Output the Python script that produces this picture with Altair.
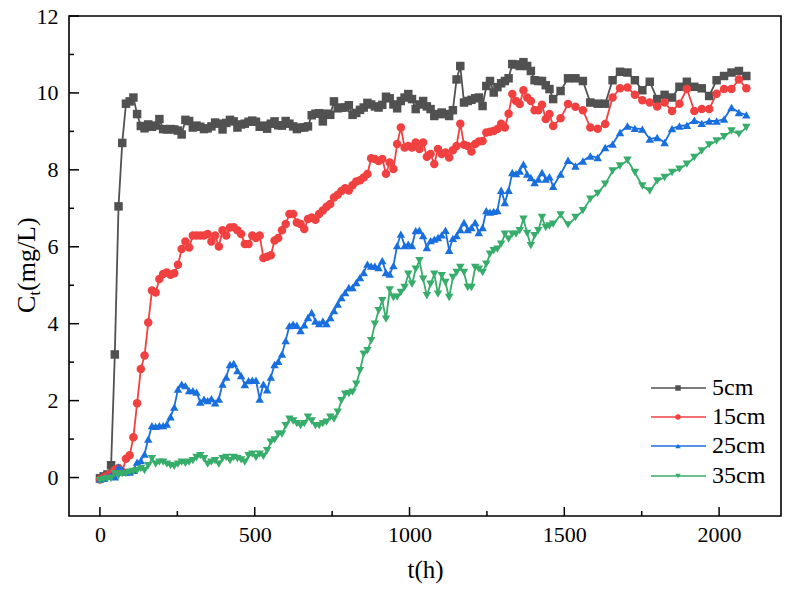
import altair as alt
import pandas as pd

# ---------------- data ----------------
times = [
    0, 12, 24, 36, 48, 60, 72, 84, 96, 108,
    120, 132, 144, 156, 168, 180, 192, 204, 216, 228,
    240, 252, 264, 276, 288, 300, 312, 324, 336, 348,
    360, 372, 384, 396, 408, 420, 432, 444, 456, 468,
    480, 492, 504, 516, 528, 540, 552, 564, 576, 588,
    600, 612, 624, 636, 648, 660, 672, 684, 696, 708,
    720, 732, 744, 756, 768, 780, 792, 804, 816, 828,
    840, 852, 864, 876, 888, 900, 912, 924, 936, 948,
    960, 972, 984, 996, 1008, 1020, 1032, 1044, 1056, 1068,
    1080, 1092, 1104, 1116, 1128, 1140, 1152, 1164, 1176, 1188,
    1200, 1212, 1224, 1236, 1248, 1260, 1272, 1284, 1296, 1308,
    1320, 1332, 1344, 1356, 1368, 1380, 1392, 1404, 1416, 1428,
    1440, 1452, 1464, 1488, 1512, 1536, 1560, 1584, 1608, 1632,
    1656, 1680, 1704, 1728, 1752, 1776, 1800, 1824, 1848, 1872,
    1896, 1920, 1944, 1968, 1992, 2016, 2040, 2064, 2088,
]

c_5cm = [
    -0.02, 0.03, 0.08, 0.32, 3.2, 7.05, 8.7, 9.72, 9.78, 9.88,
    9.45, 9.14, 9.08, 9.18, 9.12, 9.15, 9.32, 9.06, 9.05, 9.06,
    9.05, 9.02, 8.92, 9.3, 9.27, 9.1, 9.15, 9.12, 9.06, 9.08,
    9.13, 9.23, 9.2, 9.05, 9.22, 9.3, 9.26, 9.1, 9.18, 9.2,
    9.25, 9.28, 9.25, 9.12, 9.15, 9.07, 9.2, 9.26, 9.16, 9.15,
    9.27, 9.2, 9.13, 9.06, 9.1, 9.1, 9.13, 9.42, 9.46, 9.47,
    9.26, 9.46, 9.43, 9.78, 9.6, 9.62, 9.62, 9.68, 9.43, 9.48,
    9.56, 9.62, 9.74, 9.7, 9.65, 9.62, 9.69, 9.9, 9.86, 9.7,
    9.6, 9.79, 9.88, 9.97, 9.84, 9.58, 9.7, 9.79, 9.65, 9.58,
    9.4, 9.45, 9.49, 9.45, 9.4, 9.55, 10.35, 10.7, 9.75, 9.79,
    9.82, 9.86, 9.88, 9.66, 10.18, 10.31, 10.01, 10.15, 10.25, 10.31,
    10.38, 10.75, 10.74, 10.7, 10.8, 10.7, 10.57, 10.33, 10.31, 10.31,
    10.2, 10.1, 9.84, 10.05, 10.38, 10.38, 10.31, 9.75, 9.72, 9.72,
    10.33, 10.55, 10.53, 10.33, 10.07, 10.29, 9.84, 9.95, 9.88, 10.16,
    10.29, 10.16, 10.12, 9.92, 10.33, 10.44, 10.53, 10.57, 10.44,
]

c_15cm = [
    -0.05, 0.0, 0.05, 0.1, 0.2, 0.25, 0.15, 0.49, 0.58, 1.05,
    1.93, 2.82, 3.17, 4.03, 4.86, 4.81, 5.16, 5.29, 5.33, 5.27,
    5.31, 5.53, 5.94, 6.14, 5.98, 6.29, 6.29, 6.29, 6.29, 6.33,
    6.14, 6.29, 6.01, 6.43, 6.29, 6.50, 6.51, 6.43, 6.33, 6.07,
    6.07, 6.29, 6.23, 6.29, 5.71, 5.74, 5.78, 6.16, 6.23, 6.43,
    6.59, 6.85, 6.85, 6.63, 6.59, 6.46, 6.72, 6.76, 6.70, 6.85,
    6.94, 7.04, 7.11, 7.28, 7.35, 7.45, 7.52, 7.46, 7.60, 7.70,
    7.73, 7.80, 7.89, 8.30, 8.28, 8.23, 8.28, 7.90, 8.19, 8.02,
    8.67, 9.10, 8.58, 8.62, 8.58, 8.71, 8.54, 8.71, 8.34, 8.41,
    8.15, 8.54, 8.41, 8.45, 8.32, 8.51, 8.62, 9.20, 8.65, 8.62,
    8.48, 8.67, 8.74, 8.75, 8.97, 8.99, 9.01, 9.06, 9.20, 9.10,
    9.46, 9.97, 9.79, 9.71, 10.07, 9.88, 9.79, 9.55, 9.55, 9.69,
    9.32, 9.45, 9.14, 9.34, 9.71, 9.64, 9.55, 9.10, 9.07, 9.19,
    9.88, 10.12, 10.14, 9.95, 9.81, 9.75, 9.65, 9.75, 9.53, 9.72,
    10.10, 9.53, 9.58, 9.58, 9.98, 10.10, 10.10, 10.35, 10.12,
]

c_25cm = [
    -0.04, -0.02, 0.03, 0.05, 0.02, 0.27, 0.2, 0.14, 0.14, 0.19,
    0.40, 0.44, 0.61, 1.0, 1.35, 1.33, 1.35, 1.35, 1.39, 1.58,
    1.83, 2.30, 2.43, 2.39, 2.26, 2.26, 2.22, 1.96, 2.04, 2.0,
    2.05, 1.94, 2.04, 2.43, 2.61, 2.94, 2.97, 2.78, 2.65, 2.42,
    2.52, 2.53, 2.53, 2.04, 2.43, 2.28, 2.61, 2.94, 3.02, 3.21,
    3.56, 3.95, 3.99, 3.96, 3.82, 3.97, 4.16, 4.29, 4.07, 4.0,
    4.07, 4.0, 4.16, 4.34, 4.51, 4.68, 4.81, 4.94, 4.94, 5.07,
    5.2, 5.33, 5.55, 5.5, 5.5, 5.46, 5.64, 5.33, 5.29, 5.51,
    6.03, 6.33, 6.03, 6.07, 6.03, 6.42, 6.43, 6.29, 5.98, 6.16,
    6.20, 6.24, 6.31, 6.43, 5.91, 6.22, 6.29, 6.45, 6.63, 6.45,
    6.50, 6.63, 6.37, 6.50, 6.94, 6.90, 6.92, 6.94, 7.47, 7.15,
    7.47, 7.93, 7.90, 7.97, 8.15, 7.89, 7.80, 7.67, 7.76, 7.93,
    7.76, 7.82, 7.57, 7.89, 8.25, 8.10, 8.23, 8.36, 8.32, 8.58,
    8.67, 8.97, 9.14, 9.08, 9.06, 8.80, 8.84, 8.71, 9.07, 9.14,
    9.16, 9.29, 9.21, 9.27, 9.27, 9.32, 9.62, 9.49, 9.43,
]

c_35cm = [
    -0.08, -0.05, -0.03, -0.02, 0.1, 0.05, 0.1, 0.1, 0.14, 0.16,
    0.18, 0.23, 0.18, 0.31, 0.49, 0.35, 0.40, 0.40, 0.35, 0.31,
    0.29, 0.35, 0.40, 0.37, 0.40, 0.44, 0.52, 0.57, 0.49, 0.35,
    0.40, 0.44, 0.35, 0.49, 0.52, 0.44, 0.52, 0.49, 0.46, 0.40,
    0.57, 0.61, 0.52, 0.61, 0.55, 0.70, 0.92, 0.98, 1.13, 1.13,
    1.35, 1.52, 1.47, 1.40, 1.35, 1.40, 1.57, 1.47, 1.35, 1.35,
    1.40, 1.44, 1.57, 1.52, 1.70, 2.0, 2.17, 2.18, 2.22, 2.43,
    2.78, 3.21, 3.30, 3.56, 3.99, 4.34, 4.60, 4.12, 4.88, 4.68,
    4.69, 4.81, 4.94, 5.29, 5.03, 5.42, 5.64, 5.16, 4.73, 5.03,
    5.29, 4.77, 5.25, 5.07, 4.68, 5.20, 5.33, 5.46, 5.33, 4.94,
    4.94, 5.46, 5.42, 5.33, 5.55, 5.81, 5.90, 5.94, 6.07, 6.33,
    6.20, 6.33, 6.33, 6.42, 6.72, 6.35, 6.03, 6.29, 6.42, 6.76,
    6.50, 6.54, 6.59, 6.83, 6.57, 6.76, 6.94, 7.24, 7.39, 7.63,
    7.97, 8.10, 8.25, 7.93, 7.58, 7.45, 7.71, 7.80, 7.93, 8.02,
    8.15, 8.32, 8.49, 8.65, 8.75, 8.86, 9.01, 8.93, 9.10,
]

series_names = ["5cm", "15cm", "25cm", "35cm"]
series_values = [c_5cm, c_15cm, c_25cm, c_35cm]

x_major = [0, 500, 1000, 1500, 2000]
x_minor = [250, 750, 1250, 1750]
y_major = [0, 2, 4, 6, 8, 10, 12]
y_minor = [1, 3, 5, 7, 9, 11]

# ---------------- style ----------------
colors = ["#515151", "#F14040", "#1A6FDF", "#37AD6B"]
shapes = ["square", "circle", "triangle-up", "triangle-down"]
FONT = "Liberation Serif"
W, H = 712, 500

rows = []
for name, vals in zip(series_names, series_values):
    for t, v in zip(times, vals):
        rows.append({"t": t, "c": v, "series": name})
df = pd.DataFrame(rows)

xs = alt.Scale(domain=[-100, 2200], nice=False, zero=False)
ys = alt.Scale(domain=[-1, 12], nice=False, zero=False)

x_axis = alt.Axis(values=x_major, title="t(h)", grid=False, ticks=False, domain=False,
                  labelFont=FONT, labelFontSize=22, labelColor="black", labelPadding=8,
                  titleFont=FONT, titleFontSize=25, titleFontWeight="normal",
                  titleColor="black", titlePadding=12, format="d")
y_axis = alt.Axis(values=y_major, title=None, grid=False, ticks=False, domain=False,
                  labelFont=FONT, labelFontSize=22, labelColor="black", labelPadding=11,
                  format="d")

X = lambda: alt.X("t:Q", scale=xs, axis=x_axis)
Y = lambda: alt.Y("c:Q", scale=ys, axis=y_axis)

layers = []
base = alt.Chart(df)
for name, col, shp in zip(series_names, colors, shapes):
    b = base.transform_filter(alt.datum.series == name)
    layers.append(b.mark_line(color=col, strokeWidth=1.8).encode(x=X(), y=Y()))
    layers.append(b.mark_point(shape=shp, filled=True, color=col, size=72, opacity=1)
                  .encode(x=X(), y=Y()))

# inward ticks
def xticks(vals, length):
    return alt.Chart(pd.DataFrame({"t": vals})).mark_rule(color="black", strokeWidth=1.5).encode(
        x=X(), y=alt.value(H), y2=alt.value(H - length))

def yticks(vals, length):
    return alt.Chart(pd.DataFrame({"c": vals})).mark_rule(color="black", strokeWidth=1.5).encode(
        y=Y(), x=alt.value(0), x2=alt.value(length))

layers += [xticks(x_major, 9), xticks(x_minor, 5), yticks(y_major, 10), yticks(y_minor, 5)]

one = pd.DataFrame({"a": [0]})

# invisible spacer that sets the left margin (plot area starts at x=69)
layers.append(alt.Chart(one).mark_rule(color="white", strokeWidth=1)
              .encode(x=alt.value(-63.5), x2=alt.value(-63.5), y=alt.value(250), y2=alt.value(252)))

# y-axis title with subscript
layers.append(alt.Chart(one).mark_text(text="C", angle=270, font=FONT, fontSize=26, align="left",
                                       baseline="alphabetic", color="black")
              .encode(x=alt.value(-34), y=alt.value(297)))
layers.append(alt.Chart(one).mark_text(text="t", angle=270, font=FONT, fontSize=16, align="left",
                                       baseline="alphabetic", color="black")
              .encode(x=alt.value(-29), y=alt.value(279.5)))
layers.append(alt.Chart(one).mark_text(text="(mg/L)", angle=270, font=FONT, fontSize=26, align="left",
                                       baseline="alphabetic", color="black")
              .encode(x=alt.value(-34), y=alt.value(275)))

# legend (manual)
leg_rows = [372, 401, 430, 460]
for name, col, shp, yy in zip(series_names, colors, shapes, leg_rows):
    layers.append(alt.Chart(one).mark_rule(color=col, strokeWidth=1.6)
                  .encode(x=alt.value(582), x2=alt.value(637), y=alt.value(yy)))
    layers.append(alt.Chart(one).mark_point(shape=shp, filled=True, color=col, size=30, opacity=1)
                  .encode(x=alt.value(609), y=alt.value(yy)))
    layers.append(alt.Chart(one).mark_text(text=name, font=FONT, fontSize=24, align="left",
                                           baseline="middle", color="black")
                  .encode(x=alt.value(643), y=alt.value(yy)))

chart = alt.layer(*layers).properties(
    width=W, height=H,
).configure_view(stroke="black", strokeWidth=1.6)

chart.save("out.html", embed_options={"renderer": "svg", "actions": False})
